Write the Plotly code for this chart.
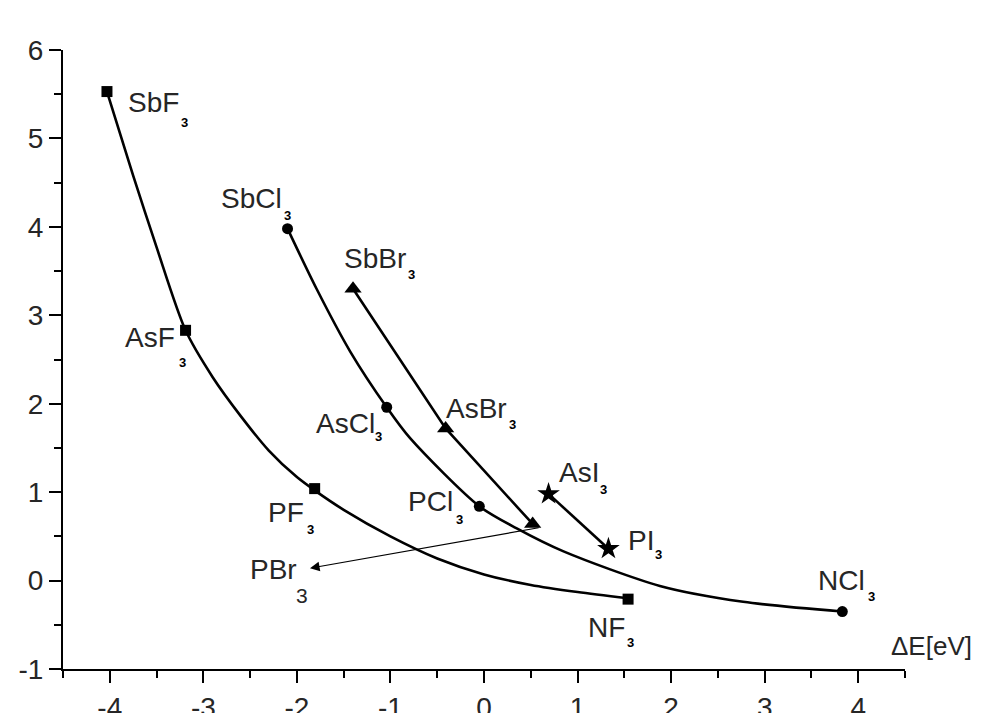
import plotly.graph_objects as go

# ---- data ----
# fluorides (squares)
f_names = ["SbF3", "AsF3", "PF3", "NF3"]
f_x = [-4.03, -3.19, -1.81, 1.54]
f_y = [5.53, 2.83, 1.04, -0.21]
f_curve_x = [-4.03, -3.75, -3.50, -3.19, -2.90, -2.60, -2.30, -2.00, -1.81, -1.50, -1.00, -0.50, 0.00, 0.50, 1.00, 1.54]
f_curve_y = [5.53, 4.58, 3.77, 2.83, 2.30, 1.86, 1.47, 1.17, 1.02, 0.80, 0.50, 0.25, 0.07, -0.05, -0.13, -0.20]

# chlorides (circles)
c_names = ["SbCl3", "AsCl3", "PCl3", "NCl3"]
c_x = [-2.10, -1.04, -0.05, 3.83]
c_y = [3.98, 1.96, 0.84, -0.35]
c_curve_x = [-2.10, -1.79, -1.43, -1.04, -0.79, -0.05, 0.35, 0.85, 1.88, 2.77, 3.83]
c_curve_y = [3.98, 3.30, 2.59, 1.96, 1.61, 0.84, 0.59, 0.33, -0.06, -0.24, -0.35]

# bromides (triangles)
b_names = ["SbBr3", "AsBr3", "PBr3"]
b_x = [-1.40, -0.41, 0.52]
b_y = [3.30, 1.72, 0.64]

# iodides (stars)
i_names = ["AsI3", "PI3"]
i_x = [0.69, 1.33]
i_y = [0.98, 0.36]

x_ticks = [-4, -3, -2, -1, 0, 1, 2, 3, 4]
x_tick_labels = ["-4", "-3", "-2", "-1", "0", "1", "2", "3", "4"]
y_ticks = [-1, 0, 1, 2, 3, 4, 5, 6]
y_tick_labels = ["-1", "0", "1", "2", "3", "4", "5", "6"]

# ---- styling / layout ----
FONT = "Liberation Sans, Arial, sans-serif"
TXT = "#262626"
LW = 2.6

fig = go.Figure()

fig.add_trace(go.Scatter(x=f_curve_x, y=f_curve_y, mode="lines",
                         line=dict(color="black", width=LW, shape="spline", smoothing=0.8),
                         hoverinfo="skip", showlegend=False))
fig.add_trace(go.Scatter(x=c_curve_x, y=c_curve_y, mode="lines",
                         line=dict(color="black", width=LW, shape="spline", smoothing=0.8),
                         hoverinfo="skip", showlegend=False))
fig.add_trace(go.Scatter(x=b_x, y=b_y, mode="lines",
                         line=dict(color="black", width=LW),
                         hoverinfo="skip", showlegend=False))
fig.add_trace(go.Scatter(x=i_x, y=i_y, mode="lines",
                         line=dict(color="black", width=LW),
                         hoverinfo="skip", showlegend=False))

fig.add_trace(go.Scatter(x=f_x, y=f_y, mode="markers", text=f_names,
                         marker=dict(symbol="square", size=11, color="black"), showlegend=False))
fig.add_trace(go.Scatter(x=c_x, y=c_y, mode="markers", text=c_names,
                         marker=dict(symbol="circle", size=11, color="black"), showlegend=False))
fig.add_trace(go.Scatter(x=b_x, y=b_y, mode="markers", text=b_names,
                         marker=dict(symbol="triangle-up", size=15, color="black"), showlegend=False))
fig.add_trace(go.Scatter(x=i_x, y=i_y, mode="markers", text=i_names,
                         marker=dict(symbol="star", size=17, color="black"), showlegend=False))

# label offsets (pixels) relative to each point: (main_dx, main_dy, sub_dx, sub_dy)
label_offsets = {
    "SbF3": (20, -9, 78, -30),
    "AsF3": (-62, -5, -3, -31),
    "PF3": (-48, -22, -4, -40),
    "NF3": (-41, -26, 2, -42),
    "SbCl3": (-68, 32, 0, 14),
    "AsCl3": (-72, -14, -8, -28),
    "PCl3": (-72, 7, -20, -12),
    "NCl3": (-25, 33, 29, 16),
    "SbBr3": (-10, 32, 58, 15),
    "AsBr3": (-1, 22, 67, 5),
    "AsI3": (9, 23, 55, 5),
    "PI3": (19, 10, 50, -5),
}

annotations = []
for names, xs, ys in [(f_names, f_x, f_y), (c_names, c_x, c_y), (b_names, b_x, b_y), (i_names, i_x, i_y)]:
    for n, xv, yv in zip(names, xs, ys):
        if n not in label_offsets:
            continue
        mdx, mdy, sdx, sdy = label_offsets[n]
        annotations.append(dict(x=xv, y=yv, xref="x", yref="y", text=n[:-1], showarrow=False,
                                xanchor="left", yanchor="middle", xshift=mdx, yshift=mdy - 2,
                                borderpad=0,
                                font=dict(family=FONT, size=28, color=TXT)))
        annotations.append(dict(x=xv, y=yv, xref="x", yref="y", text="<b>3</b>", showarrow=False,
                                xanchor="center", yanchor="middle", xshift=sdx, yshift=sdy - 1,
                                borderpad=0,
                                font=dict(family=FONT, size=13, color="black")))

# PBr3 arrow (from the PBr3 point to its label)
arrow_tip = (-1.86, 0.14)
arrow_tail = (0.60, 0.60)
annotations.append(dict(x=arrow_tip[0], y=arrow_tip[1], ax=arrow_tail[0], ay=arrow_tail[1],
                        xref="x", yref="y", axref="x", ayref="y", text="", showarrow=True,
                        arrowhead=2, arrowsize=1.6, arrowwidth=1.2, arrowcolor="black"))
annotations.append(dict(x=arrow_tip[0], y=arrow_tip[1], xref="x", yref="y", text="PBr",
                        showarrow=False, xanchor="left", yanchor="middle", xshift=-61, yshift=-1,
                        borderpad=0,
                        font=dict(family=FONT, size=28, color=TXT)))
annotations.append(dict(x=arrow_tip[0], y=arrow_tip[1], xref="x", yref="y", text="3",
                        showarrow=False, xanchor="center", yanchor="middle", xshift=-8, yshift=-27,
                        borderpad=0,
                        font=dict(family=FONT, size=21, color=TXT)))

# axis titles
annotations.append(dict(x=-3.76, y=6.17, xref="x", yref="y", text="μ[D]", showarrow=False,
                        xanchor="left", yanchor="middle", borderpad=0,
                        font=dict(family=FONT, size=27, color=TXT)))
annotations.append(dict(x=4.34, y=-0.74, xref="x", yref="y", text="ΔE[eV]", showarrow=False,
                        xanchor="left", yanchor="middle", borderpad=0,
                        font=dict(family=FONT, size=26, color=TXT)))

axis_common = dict(showline=True, linecolor="black", linewidth=2, showgrid=False, zeroline=False,
                   automargin=False,
                   ticks="outside", ticklen=12, tickwidth=2, tickcolor="black",
                   tickfont=dict(family=FONT, size=28, color=TXT),
                   minor=dict(ticks="outside", ticklen=7, tickwidth=2, tickcolor="black", dtick=0.5, showgrid=False))

# the page body adds an 8px margin, so the figure is sized/offset to compensate
fig.update_layout(
    width=973, height=705,
    margin=dict(l=55, r=76, t=42, b=44, autoexpand=False),
    plot_bgcolor="white", paper_bgcolor="white",
    xaxis=dict(range=[-4.5, 4.5], tickvals=x_ticks, ticktext=x_tick_labels, **axis_common),
    yaxis=dict(range=[-1, 6], tickvals=y_ticks, ticktext=y_tick_labels, **axis_common),
    annotations=annotations,
    showlegend=False,
)

fig.write_html("out.html")
